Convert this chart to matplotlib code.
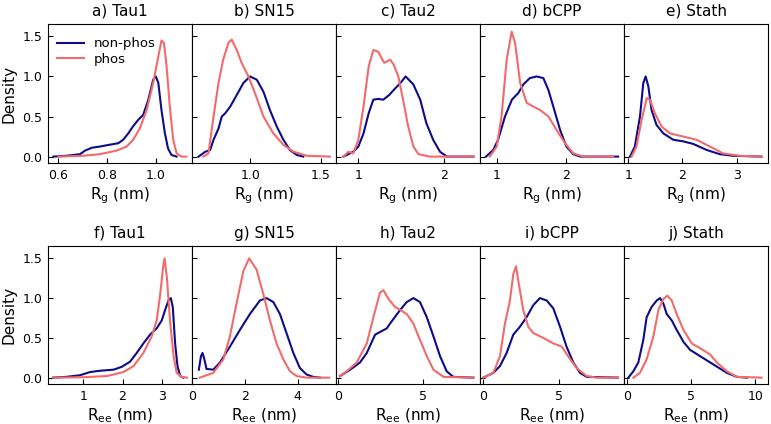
import matplotlib
matplotlib.use("Agg")
import matplotlib.pyplot as plt
import numpy as np

plt.rcParams['font.family'] = ['DejaVu Sans']
plt.rcParams['mathtext.default'] = 'regular'

# ---------------- data ----------------
titles_top = ["a) Tau1", "b) SN15", "c) Tau2", "d) bCPP", "e) Stath"]
titles_bot = ["f) Tau1", "g) SN15", "h) Tau2", "i) bCPP", "j) Stath"]
series_names = ["non-phos", "phos"]

# Rg, Tau1
rg_tau1_np_x = [0.58, 0.634, 0.689, 0.71, 0.737, 0.77, 0.805, 0.846, 0.866, 0.887, 0.907, 0.928, 0.948, 0.969, 0.989, 1.0, 1.01, 1.023, 1.037, 1.05, 1.064, 1.085]
rg_tau1_np_y = [0.0, 0.01, 0.03, 0.075, 0.11, 0.125, 0.145, 0.167, 0.21, 0.29, 0.38, 0.46, 0.52, 0.71, 0.96, 1.0, 0.92, 0.58, 0.29, 0.10, 0.02, 0.0]
rg_tau1_p_x = [0.6, 0.70, 0.77, 0.84, 0.88, 0.907, 0.934, 0.962, 0.989, 1.01, 1.023, 1.033, 1.044, 1.057, 1.071, 1.085, 1.105, 1.125]
rg_tau1_p_y = [0.0, 0.01, 0.03, 0.075, 0.125, 0.21, 0.35, 0.58, 0.92, 1.25, 1.45, 1.42, 1.125, 0.625, 0.21, 0.04, 0.0, 0.0]

# Rg, SN15
rg_sn15_np_x = [0.636, 0.66, 0.683, 0.718, 0.742, 0.777, 0.80, 0.824, 0.86, 0.906, 0.953, 1.0, 1.047, 1.094, 1.14, 1.188, 1.235, 1.28, 1.33, 1.375]
rg_sn15_np_y = [0.0, 0.03, 0.06, 0.083, 0.21, 0.35, 0.5, 0.54, 0.625, 0.77, 0.92, 1.0, 0.96, 0.81, 0.58, 0.375, 0.21, 0.083, 0.02, 0.0]
rg_sn15_p_x = [0.67, 0.706, 0.742, 0.777, 0.81, 0.847, 0.87, 0.906, 0.94, 0.988, 1.035, 1.094, 1.164, 1.235, 1.305, 1.40, 1.563]
rg_sn15_p_y = [0.0, 0.04, 0.5, 0.92, 1.21, 1.42, 1.46, 1.33, 1.17, 1.0, 0.79, 0.5, 0.29, 0.146, 0.0625, 0.01, 0.0]

# Rg, Tau2
rg_tau2_np_x = [0.826, 0.94, 1.0, 1.06, 1.12, 1.174, 1.23, 1.29, 1.36, 1.41, 1.49, 1.55, 1.64, 1.72, 1.79, 1.87, 1.95, 2.03, 2.34]
rg_tau2_np_y = [0.0, 0.06, 0.125, 0.29, 0.54, 0.71, 0.72, 0.71, 0.77, 0.83, 0.92, 1.0, 0.9, 0.71, 0.42, 0.21, 0.06, 0.0, 0.0]
rg_tau2_p_x = [0.826, 0.884, 0.94, 1.0, 1.06, 1.12, 1.174, 1.23, 1.30, 1.37, 1.41, 1.465, 1.52, 1.58, 1.64, 1.70, 1.83, 2.34]
rg_tau2_p_y = [0.0, 0.06, 0.04, 0.21, 0.625, 1.125, 1.33, 1.31, 1.17, 1.21, 1.15, 1.0, 0.71, 0.375, 0.125, 0.03, 0.0, 0.0]

# Rg, bCPP
rg_bcpp_np_x = [0.845, 0.95, 1.02, 1.12, 1.22, 1.31, 1.386, 1.48, 1.58, 1.676, 1.75, 1.82, 1.92, 2.01, 2.11, 2.21, 2.76]
rg_bcpp_np_y = [0.0, 0.083, 0.21, 0.5, 0.71, 0.79, 0.9, 0.98, 1.0, 0.98, 0.83, 0.625, 0.33, 0.125, 0.03, 0.0, 0.0]
rg_bcpp_p_x = [0.9, 1.0, 1.07, 1.145, 1.217, 1.266, 1.34, 1.435, 1.53, 1.63, 1.75, 1.87, 1.99, 2.11, 2.256, 2.69]
rg_bcpp_p_y = [0.0, 0.125, 0.5, 1.21, 1.56, 1.42, 0.92, 0.67, 0.625, 0.58, 0.5, 0.33, 0.167, 0.04, 0.0, 0.0]

# Rg, Stath
rg_stath_np_x = [1.03, 1.12, 1.215, 1.277, 1.32, 1.37, 1.43, 1.52, 1.646, 1.83, 2.015, 2.2, 2.446, 2.69, 2.94, 3.46]
rg_stath_np_y = [0.0, 0.125, 0.5, 0.92, 1.0, 0.875, 0.58, 0.396, 0.29, 0.21, 0.19, 0.158, 0.083, 0.03, 0.01, 0.0]
rg_stath_p_x = [1.06, 1.15, 1.246, 1.34, 1.40, 1.49, 1.615, 1.77, 2.015, 2.26, 2.51, 2.75, 3.06, 3.46]
rg_stath_p_y = [0.0, 0.125, 0.46, 0.73, 0.71, 0.54, 0.375, 0.29, 0.25, 0.21, 0.125, 0.04, 0.01, 0.0]

# Ree, Tau1
ree_tau1_np_x = [0.234, 0.575, 0.915, 1.17, 1.43, 1.77, 1.98, 2.19, 2.36, 2.53, 2.70, 2.87, 3.0, 3.085, 3.17, 3.23, 3.28, 3.34, 3.40, 3.47, 3.55]
ree_tau1_np_y = [0.0, 0.01, 0.03, 0.07, 0.087, 0.10, 0.136, 0.2, 0.31, 0.43, 0.54, 0.62, 0.72, 0.85, 0.97, 1.0, 0.89, 0.43, 0.145, 0.02, 0.0]
ree_tau1_p_x = [0.234, 1.0, 1.6, 2.02, 2.28, 2.53, 2.745, 2.87, 2.96, 3.03, 3.07, 3.13, 3.21, 3.30, 3.38, 3.51, 3.64]
ree_tau1_p_y = [0.0, 0.005, 0.02, 0.07, 0.145, 0.31, 0.52, 0.72, 1.05, 1.38, 1.5, 1.26, 0.72, 0.27, 0.06, 0.01, 0.0]

# Ree, SN15
ree_sn15_np_x = [0.25, 0.33, 0.39, 0.46, 0.54, 0.8, 1.05, 1.43, 1.81, 2.19, 2.57, 2.82, 3.08, 3.33, 3.58, 3.84, 4.09, 4.34, 4.59, 4.85]
ree_sn15_np_y = [0.10, 0.27, 0.31, 0.23, 0.11, 0.10, 0.19, 0.39, 0.6, 0.8, 0.97, 1.0, 0.95, 0.8, 0.56, 0.31, 0.12, 0.04, 0.01, 0.0]
ree_sn15_p_x = [0.29, 0.8, 1.18, 1.43, 1.68, 1.94, 2.16, 2.44, 2.70, 2.95, 3.2, 3.46, 3.71, 3.96, 4.34, 5.2]
ree_sn15_p_y = [0.0, 0.06, 0.23, 0.52, 0.93, 1.34, 1.5, 1.36, 1.05, 0.72, 0.43, 0.23, 0.08, 0.02, 0.0, 0.0]

# Ree, Tau2
ree_tau2_np_x = [0.1, 0.69, 1.27, 1.67, 2.16, 2.85, 3.04, 3.63, 4.02, 4.41, 4.8, 5.2, 5.59, 5.98, 6.37, 6.76, 7.94]
ree_tau2_np_y = [0.02, 0.10, 0.19, 0.31, 0.54, 0.62, 0.68, 0.85, 0.95, 1.0, 0.95, 0.76, 0.52, 0.27, 0.08, 0.01, 0.0]
ree_tau2_p_x = [0.1, 0.49, 1.08, 1.67, 2.06, 2.45, 2.65, 2.94, 3.33, 4.02, 4.41, 4.8, 5.2, 5.59, 6.18, 7.94]
ree_tau2_p_y = [0.02, 0.08, 0.19, 0.43, 0.76, 1.07, 1.1, 0.99, 0.89, 0.8, 0.68, 0.475, 0.27, 0.10, 0.01, 0.0]

# Ree, bCPP
ree_bcpp_np_x = [0.0, 0.66, 1.1, 1.54, 1.98, 2.42, 2.86, 3.3, 3.74, 4.19, 4.63, 5.07, 5.5, 5.95, 6.39, 6.83, 8.9]
ree_bcpp_np_y = [0.0, 0.06, 0.145, 0.31, 0.54, 0.64, 0.76, 0.91, 1.0, 0.97, 0.87, 0.64, 0.39, 0.19, 0.06, 0.01, 0.0]
ree_bcpp_p_x = [0.0, 0.66, 1.1, 1.43, 1.76, 1.98, 2.16, 2.38, 2.64, 2.97, 3.3, 3.96, 4.63, 5.18, 5.6, 6.17, 6.83, 7.49, 8.9]
ree_bcpp_p_y = [0.0, 0.06, 0.27, 0.68, 0.97, 1.3, 1.4, 1.14, 0.85, 0.64, 0.56, 0.5, 0.43, 0.39, 0.27, 0.12, 0.02, 0.0, 0.0]

# Ree, Stath
ree_stath_np_x = [0.08, 0.47, 0.86, 1.25, 1.51, 1.9, 2.3, 2.56, 2.82, 3.08, 3.47, 3.86, 4.39, 4.9, 5.69, 6.74, 7.78, 8.56, 9.35]
ree_stath_np_y = [0.0, 0.08, 0.19, 0.475, 0.76, 0.89, 0.97, 1.0, 0.93, 0.8, 0.72, 0.6, 0.45, 0.35, 0.27, 0.165, 0.06, 0.01, 0.0]
ree_stath_p_x = [0.47, 0.99, 1.51, 2.04, 2.43, 2.82, 3.13, 3.47, 3.86, 4.39, 5.04, 5.69, 6.48, 7.0, 7.78, 8.56, 10.5]
ree_stath_p_y = [0.0, 0.06, 0.23, 0.52, 0.85, 0.99, 1.03, 0.97, 0.8, 0.6, 0.43, 0.37, 0.29, 0.19, 0.08, 0.01, 0.0]

xticks_top = [[0.6, 0.8, 1.0], [1.0, 1.5], [1, 2], [1, 2], [1, 2, 3]]
xticks_bot = [[1, 2, 3], [0, 2, 4], [0, 5], [0, 5], [0, 5, 10]]
yticks = [0.0, 0.5, 1.0, 1.5]

# axis ranges (layout)
xlims_top = [(0.558, 1.148), (0.59, 1.606), (0.74, 2.415), (0.758, 2.845), (0.92, 3.58)]
xlims_bot = [(0.10, 3.77), (-0.01, 5.46), (-0.14, 8.33), (-0.22, 9.3), (-0.26, 11.0)]

top_data = [
    (rg_tau1_np_x, rg_tau1_np_y, rg_tau1_p_x, rg_tau1_p_y),
    (rg_sn15_np_x, rg_sn15_np_y, rg_sn15_p_x, rg_sn15_p_y),
    (rg_tau2_np_x, rg_tau2_np_y, rg_tau2_p_x, rg_tau2_p_y),
    (rg_bcpp_np_x, rg_bcpp_np_y, rg_bcpp_p_x, rg_bcpp_p_y),
    (rg_stath_np_x, rg_stath_np_y, rg_stath_p_x, rg_stath_p_y),
]
bot_data = [
    (ree_tau1_np_x, ree_tau1_np_y, ree_tau1_p_x, ree_tau1_p_y),
    (ree_sn15_np_x, ree_sn15_np_y, ree_sn15_p_x, ree_sn15_p_y),
    (ree_tau2_np_x, ree_tau2_np_y, ree_tau2_p_x, ree_tau2_p_y),
    (ree_bcpp_np_x, ree_bcpp_np_y, ree_bcpp_p_x, ree_bcpp_p_y),
    (ree_stath_np_x, ree_stath_np_y, ree_stath_p_x, ree_stath_p_y),
]

# ---------------- figure ----------------
W, H = 771, 424
fig = plt.figure(figsize=(W / 100, H / 100), dpi=100)

c_np = '#0c0c8a'
c_p = '#f36a6a'

left_px, right_px = 48, 768
pw = (right_px - left_px) / 5
rows = [(24, 163, top_data, titles_top, xticks_top, xlims_top, 'R$_{g}$ (nm)', True),
        (246, 384, bot_data, titles_bot, xticks_bot, xlims_bot, 'R$_{ee}$ (nm)', False)]

for (ytop, ybot, data, titles, xts, xls, xlab, is_top) in rows:
    for i in range(5):
        ax = fig.add_axes([(left_px + i * pw) / W, 1 - ybot / H, pw / W, (ybot - ytop) / H])
        nx, ny, px_, py_ = data[i]
        ax.plot(nx, ny, color=c_np, lw=1.5, label=series_names[0])
        ax.plot(px_, py_, color=c_p, lw=1.5, label=series_names[1])
        ax.set_xticks(xts[i])
        ax.set_xlim(xls[i])
        ax.set_ylim(-0.08, 1.655)
        ax.set_yticks(yticks)
        ax.tick_params(direction='in', length=3.5, width=0.8, labelsize=9, pad=4)
        ax.set_title(titles[i], fontsize=11, pad=6)
        ax.set_xlabel(xlab, fontsize=11, labelpad=3)
        if i == 0:
            ax.set_ylabel('Density', fontsize=11)
        else:
            ax.tick_params(labelleft=False)
        if i == 0 and is_top:
            ax.legend(loc='upper left', frameon=False, fontsize=9.5,
                      handlelength=2.0, borderaxespad=0.3, labelspacing=0.2,
                      bbox_to_anchor=(0.0, 0.97))

fig.savefig('out.png', dpi=100)
